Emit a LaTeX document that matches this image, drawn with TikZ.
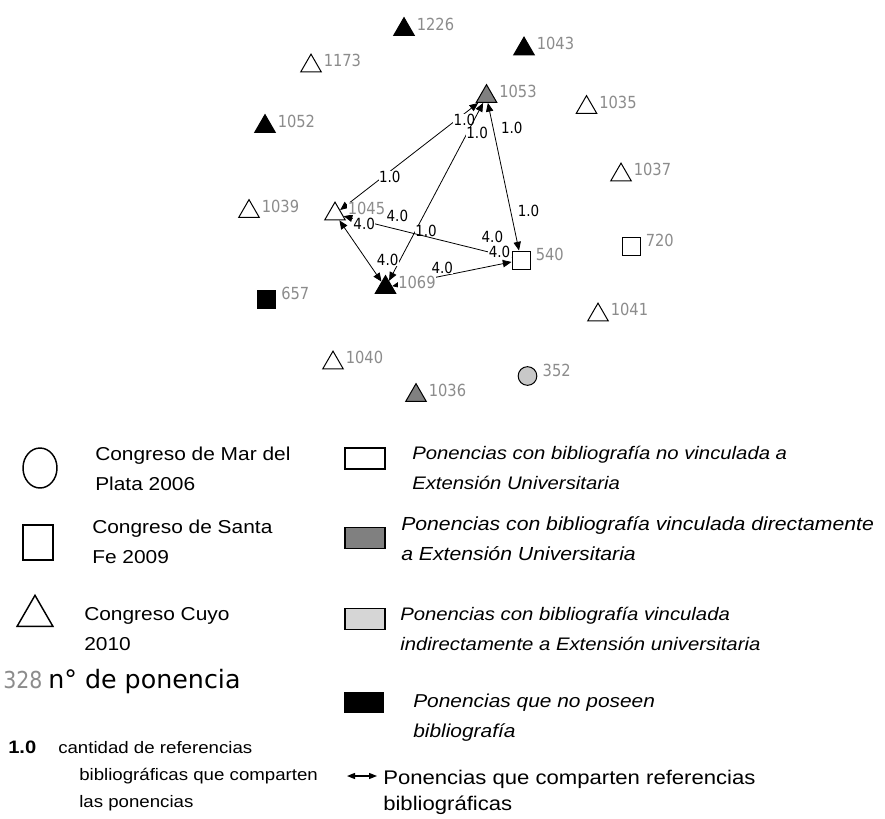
\documentclass[tikz,border=0pt]{standalone}
\usepackage{fontspec}
\setmainfont{Liberation Sans}[FakeStretch=1.12]
\newfontfamily\netfont{DejaVu Sans}
\newfontfamily\netnarrow{DejaVu Sans}[FakeStretch=0.88]
\usetikzlibrary{shapes.geometric,arrows.meta}
\definecolor{lblgray}{RGB}{140,140,140}
\definecolor{darkfill}{RGB}{128,128,128}
\definecolor{lightfill}{RGB}{200,200,200}
\definecolor{boxlight}{RGB}{214,214,214}
\pgfdeclarelayer{edges}
\pgfsetlayers{edges,main}
% one paper of the network: name, style, x, y
\newcommand{\ponencia}[4]{\node[#2, label={[vlab]right:#1}] (n#1) at (#3,#4) {};}

\begin{document}
\begin{tikzpicture}[x=0.75pt, y=-0.75pt, label distance=3.5pt,
		tri/.style={draw, line width=0.75pt, regular polygon, regular polygon sides=3,
				minimum size=17.8pt, inner sep=0pt},
		sq/.style={draw, line width=0.75pt, rectangle, minimum size=13.5pt, inner sep=0pt},
		wt/.style={tri, fill=white},
		bt/.style={tri, fill=black},
		gt/.style={tri, fill=darkfill},
		ws/.style={sq, fill=white},
		bs/.style={sq, fill=black},
		gc/.style={sq, circle, minimum size=14pt, fill=lightfill},
		vlab/.style={text=lblgray, font=\netnarrow\fontsize{12.5}{12.5}\selectfont,
				fill=white, inner sep=0.3pt, yshift=4pt},
		wl/.style={font=\netnarrow\fontsize{11.5}{11.5}\selectfont, fill=white, inner sep=0.3pt},
		bi/.style={{Triangle[length=6.5pt,width=5.5pt]}-{Triangle[length=6.5pt,width=5.5pt]},
				line width=0.6pt},
		legtxt/.style={anchor=base west, align=left, inner sep=0pt,
				font=\fontsize{14}{22.5}\selectfont},
		legit/.style={legtxt, font=\itshape\fontsize{13.6}{22.5}\selectfont},
		legbox/.style={draw, line width=1.2pt, minimum width=30pt, minimum height=15.75pt,
				inner sep=0pt}
		]
	\useasboundingbox (0,0) rectangle (885,818);

	% network
	\ponencia{1226}{bt}{404}{29.5}
	\ponencia{1043}{bt}{524}{49}
	\ponencia{1173}{wt}{311}{66}
	\ponencia{1053}{gt}{486.5}{96.5}
	\ponencia{1035}{wt}{586.5}{107.5}
	\ponencia{1052}{bt}{265}{126.5}
	\ponencia{1037}{wt}{621}{175}
	\ponencia{1039}{wt}{249}{211.5}
	\ponencia{1045}{wt}{335}{214}
	\ponencia{720}{ws}{631}{246}
	\ponencia{540}{ws}{521}{260}
	\ponencia{1069}{bt}{385.5}{287.5}
	\ponencia{657}{bs}{266.5}{299}
	\ponencia{1041}{wt}{598}{315}
	\ponencia{1040}{wt}{333}{363}
	\ponencia{352}{gc}{527.5}{376}
	\ponencia{1036}{gt}{416}{395.5}

	\begin{pgfonlayer}{edges}
		\draw[bi] (n1045) -- (n1053)
		node[wl, pos=.36, yshift=-4pt] {1.0} node[wl, pos=.9, yshift=-5pt] {1.0};
		\draw[bi] (n1069) -- (n1053)
		node[wl, pos=.28, xshift=8pt] {1.0} node[wl, pos=.83, xshift=7.5pt] {1.0};
		\draw[bi] (n1053) -- (n540)
		node[wl, pos=.17, xshift=14pt] {1.0} node[wl, pos=.73, xshift=13.5pt] {1.0};
		\draw[bi] (n1045) -- (n540)
		node[wl, pos=.32, yshift=10pt] {4.0} node[wl, pos=.886, yshift=12pt] {4.0};
		\draw[bi] (n1045) -- (n1069)
		node[wl, pos=.05, xshift=17pt] {4.0} node[wl, pos=.64, xshift=16pt] {4.0};
		\draw[bi] (n1069) -- (n540)
		node[wl, pos=.42, yshift=6pt] {4.0} node[wl, pos=.9, yshift=9pt] {4.0};
	\end{pgfonlayer}

	% legend, left column
	\node[draw, ellipse, line width=1.1pt, minimum width=25.5pt, minimum height=30pt,
		inner sep=0pt] (lmdp) at (40,468) {};
	\node[legtxt] (tmdp) at (95,490) {Congreso de Mar del\\Plata 2006};
	\node[draw, line width=1.1pt, minimum width=22.5pt, minimum height=26.25pt,
		inner sep=0pt] (lsfe) at (38,542.5) {};
	\node[legtxt] (tsfe) at (92,563) {Congreso de Santa\\Fe 2009};
	\node[draw, line width=1.1pt, regular polygon, regular polygon sides=3,
		minimum size=31pt, inner sep=0pt] (lcuyo) at (35,616) {};
	\node[legtxt] (tcuyo) at (84,650) {Congreso Cuyo\\2010};
	\node[anchor=base west, inner sep=0pt, text=lblgray,
		font=\netnarrow\fontsize{17.5}{17.5}\selectfont] (lnum) at (3,688) {328};
	\node[anchor=base west, inner sep=0pt,
		font=\netfont\fontsize{19}{19}\selectfont] (tnum) at (48,688) {n° de ponencia};
	\node[anchor=base west, inner sep=0pt, font=\bfseries\fontsize{13.5}{13.5}\selectfont]
		(lwt) at (8,753) {1.0};
	\node[legtxt, font=\fontsize{12.5}{20.25}\selectfont] (twt) at (58,807)
		{cantidad de referencias\\\hspace*{15.75pt}bibliográficas que comparten\\\hspace*{15.75pt}las ponencias};

	% legend, right column
	\node[legbox, fill=white] (bno) at (365,458.5) {};
	\node[legit] (tno) at (412,489)
		{Ponencias con bibliografía no vinculada a\\Extensión Universitaria};
	\node[legbox, fill=darkfill] (bdir) at (365,538) {};
	\node[legit, font=\itshape\fontsize{14.2}{22.5}\selectfont] (tdir) at (401,560)
		{Ponencias con bibliografía vinculada directamente\\a Extensión Universitaria};
	\node[legbox, fill=boxlight] (bind) at (365,619) {};
	\node[legit] (tind) at (400,650)
		{Ponencias con bibliografía vinculada\\indirectamente a Extensión universitaria};
	\node[legbox, fill=black, draw=none] (bsin) at (364,702) {};
	\node[legit, font=\itshape\fontsize{14}{22.5}\selectfont] (tsin) at (413,737)
		{Ponencias que no poseen\\bibliografía};
	\coordinate (la) at (347,776);
	\coordinate (lb) at (377,776);
	\draw[{Triangle[length=6pt,width=4.5pt]}-{Triangle[length=6pt,width=4.5pt]}, line width=0.9pt]
		(la) -- (lb);
	\node[legtxt, font=\fontsize{14.8}{19.5}\selectfont] (tcomp) at (383,810)
		{Ponencias que comparten referencias\\bibliográficas};
\end{tikzpicture}
\end{document}
